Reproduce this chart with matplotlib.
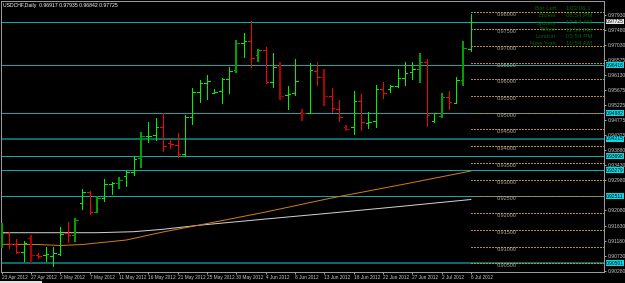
import matplotlib
matplotlib.use('Agg')
import matplotlib.pyplot as plt
from matplotlib.transforms import blended_transform_factory
from matplotlib.patches import Rectangle

plt.rcParams['font.family'] = ['Liberation Sans', 'DejaVu Sans']

title_text = "USDCHF,Daily  0.96917 0.97935 0.96842 0.97725"

# ---- daily OHLC bars (23 Apr 2012 .. 6 Jul 2012, broker calendar incl. Sunday bars)
opens = [0.91197, 0.91406, 0.91077, 0.90838, 0.91257, 0.90749, 0.90755, 0.90719, 0.90780, 0.91406,
         0.91346, 0.92302, 0.92631, 0.92033, 0.92452, 0.92870, 0.92891, 0.93109, 0.93229, 0.93638,
         0.94295, 0.94334, 0.94582, 0.94086, 0.94035, 0.93757, 0.94863, 0.95619, 0.95879, 0.95585,
         0.95640, 0.95998, 0.96276, 0.97092, 0.97143, 0.96724, 0.96874, 0.95909, 0.96396, 0.95529,
         0.95580, 0.95012, 0.95000, 0.96255, 0.96076, 0.95508, 0.95111, 0.94573, 0.94564, 0.95350,
         0.94707, 0.94752, 0.95699, 0.95708, 0.95789, 0.96046, 0.96207, 0.96315, 0.96530, 0.94752,
         0.94902, 0.95478, 0.95299, 0.95977, 0.96917]
highs = [0.91714, 0.91445, 0.91227, 0.91167, 0.91346, 0.90808, 0.90997, 0.90997, 0.91594, 0.91744,
         0.91845, 0.92712, 0.92661, 0.92511, 0.93010, 0.92939, 0.93070, 0.93273, 0.93716, 0.94415,
         0.94722, 0.94833, 0.95000, 0.94223, 0.94403, 0.94932, 0.95729, 0.95977, 0.96136, 0.95708,
         0.96037, 0.96375, 0.97172, 0.97391, 0.97740, 0.96895, 0.96972, 0.96775, 0.96524, 0.95798,
         0.96596, 0.95111, 0.96476, 0.96524, 0.96297, 0.95747, 0.95380, 0.94633, 0.95649, 0.95559,
         0.95030, 0.95828, 0.95927, 0.95828, 0.96297, 0.96524, 0.96515, 0.96793, 0.96596, 0.95000,
         0.95580, 0.95649, 0.96058, 0.97143, 0.97935]
lows = [0.90949, 0.90949, 0.90799, 0.90569, 0.90519, 0.90659, 0.90569, 0.90429, 0.90760, 0.91146,
        0.91146, 0.92123, 0.91974, 0.91995, 0.92371, 0.92562, 0.92712, 0.92810, 0.93139, 0.93339,
        0.94134, 0.94185, 0.93865, 0.93937, 0.93668, 0.93716, 0.94663, 0.95329, 0.95401, 0.95580,
        0.95281, 0.95580, 0.96195, 0.96656, 0.96375, 0.96515, 0.95879, 0.95759, 0.95380, 0.95120,
        0.95529, 0.94761, 0.94982, 0.95828, 0.95200, 0.95030, 0.94761, 0.94454, 0.94364, 0.94483,
        0.94543, 0.94573, 0.95431, 0.95628, 0.95759, 0.95828, 0.95998, 0.95897, 0.94612, 0.94731,
        0.94833, 0.95111, 0.95281, 0.95798, 0.96842]
closes = [0.91406, 0.91077, 0.90838, 0.91107, 0.90749, 0.90719, 0.90780, 0.90808, 0.91376, 0.91346,
          0.91794, 0.92631, 0.92033, 0.92452, 0.92870, 0.92891, 0.92990, 0.93229, 0.93608, 0.94304,
          0.94313, 0.94582, 0.94005, 0.94056, 0.93757, 0.94863, 0.95610, 0.95879, 0.95956, 0.95628,
          0.95998, 0.96255, 0.97074, 0.97143, 0.96626, 0.96874, 0.95909, 0.96375, 0.95508, 0.95559,
          0.95956, 0.94982, 0.96276, 0.96076, 0.95508, 0.95132, 0.94881, 0.94513, 0.95350, 0.94713,
          0.94722, 0.95699, 0.95580, 0.95798, 0.96046, 0.96177, 0.96297, 0.96524, 0.94932, 0.94982,
          0.95478, 0.95329, 0.95977, 0.96920, 0.97725]
# bar drawing style: up / dn (thin bright), up2 / dn2 (thick dark)
bar_kind = ['up2', 'dn', 'dn', 'up', 'dn2', 'dn', 'up', 'up', 'up', 'dn',
            'up2', 'up', 'dn', 'up2', 'up', 'up', 'up2', 'up', 'up', 'up2',
            'up', 'up', 'dn', 'dn', 'dn', 'up', 'up', 'up', 'up', 'up',
            'up', 'up', 'up2', 'up', 'dn', 'up2', 'dn', 'up', 'dn2', 'up',
            'up', 'dn2', 'up', 'dn', 'dn2', 'dn', 'dn', 'dn2', 'up', 'dn',
            'up', 'up', 'dn', 'up', 'up', 'up', 'up', 'up2', 'dn', 'up',
            'up2', 'dn', 'up', 'up2', 'up']

date_labels = ["23 Apr 2012", "27 Apr 2012", "2 May 2012", "7 May 2012", "11 May 2012",
               "16 May 2012", "21 May 2012", "25 May 2012", "30 May 2012", "4 Jun 2012",
               "8 Jun 2012", "13 Jun 2012", "18 Jun 2012", "22 Jun 2012", "27 Jun 2012",
               "2 Jul 2012", "6 Jul 2012"]

# moving averages, read at selected bars
ma_fast_bar = [0, 5, 8, 11, 13, 17, 22, 27, 36, 45, 55, 64]
ma_fast_val = [0.91068, 0.91062, 0.91033, 0.91062, 0.91107, 0.91197, 0.91436, 0.91645,
               0.92033, 0.92452, 0.92870, 0.93258]
ma_slow_bar = [0, 13, 18, 22, 27, 36, 45, 55, 64]
ma_slow_val = [0.91415, 0.91415, 0.91445, 0.91517, 0.91639, 0.91824, 0.92004, 0.92213, 0.92407]

# horizontal line objects
hline_prices = [0.97725, 0.96416, 0.94982, 0.94215, 0.93698, 0.93279, 0.92511, 0.90501]
hline_heavy = [False, False, False, True, False, False, False, True]

# round-number levels drawn right of the last bar
round_levels = [0.98000, 0.97500, 0.97000, 0.96500, 0.96000, 0.95500, 0.95000, 0.94500,
                0.94000, 0.93500, 0.93000, 0.92500, 0.92000, 0.91500, 0.91000, 0.90500]

# right price scale labels (the ones not hidden by the line boxes)
price_ticks = [0.97930, 0.97480, 0.97030, 0.96575, 0.96130, 0.95675, 0.95225, 0.94775, 0.94325,
               0.93880, 0.93430, 0.92980, 0.92080, 0.91630, 0.91180, 0.90730, 0.90280]

info_labels = ["Bar Left", "Broker", "Sydney", "Tokyo", "London", "New York"]
info_values = ["1:03:06:1", "08:54 PM", "12:54 AM", "11:54 PM", "03:54 PM", "10:54 AM"]

# ---------------------------------------------------------------------------
W, H = 625, 283
fig = plt.figure(figsize=(W / 100, H / 100), dpi=100, facecolor='black')
ax = fig.add_axes([1 / W, (H - 272) / H, 602.5 / W, 271.5 / H], facecolor='black')

px = 0.72  # one pixel in points
n = len(opens)
ax.set_xlim(-0.095, 82.1)
ax.set_ylim(0.90241, 0.98353)

styles = {'up': ('#00f000', 1.0), 'dn': ('#ff0000', 1.0),
          'up2': ('#00a000', 2.0), 'dn2': ('#b00000', 2.0)}
tick = 0.36
for i in range(n):
    col, w = styles[bar_kind[i]]
    ax.plot([i, i], [lows[i], highs[i]], color=col, lw=w * px, solid_capstyle='butt',
            antialiased=False, zorder=4)
    ax.plot([i - tick, i], [opens[i], opens[i]], color=col, lw=1.0 * px, solid_capstyle='butt',
            antialiased=False, zorder=4)
    ax.plot([i, i + tick], [closes[i], closes[i]], color=col, lw=1.0 * px, solid_capstyle='butt',
            antialiased=False, zorder=4)

# moving averages
ax.plot(ma_slow_bar, ma_slow_val, color='#d0d0d0', lw=1.0 * px, zorder=3)
ax.plot(ma_fast_bar, ma_fast_val, color='#d07c18', lw=1.0 * px, zorder=3)

# horizontal lines
for p, heavy in zip(hline_prices, hline_heavy):
    ax.axhline(p, color='#0b6b6b' if heavy else '#10a8a8', lw=(2.0 if heavy else 1.0) * px,
               antialiased=False, zorder=2)

# round-number levels
last = n - 1
for lv in round_levels:
    ax.plot([last, 82.1], [lv, lv], color='#b8883a', lw=1.0 * px, ls=(0, (2, 2)),
            antialiased=False, zorder=2)
    ax.text(last + 3.6, lv, f"{lv:.5f}", color='#b4a88e', fontsize=4.0, ha='left', va='top',
            zorder=5)

# axes styling
for s in ax.spines.values():
    s.set_color('#9a9a9a')
    s.set_linewidth(1.0 * px)
ax.yaxis.tick_right()
ax.set_yticks(price_ticks)
ax.set_yticklabels([f"{v:.5f}" for v in price_ticks])
ax.tick_params(axis='y', colors='#c8c8c8', labelsize=3.6, length=1.5, width=0.6, pad=1.2)
ax.set_xticks(list(range(0, n, 4)))
ax.set_xticklabels(date_labels, ha='left')
ax.tick_params(axis='x', colors='#c8c8c8', labelsize=3.4, length=1.5, width=0.6, pad=0.8)

# price boxes on the right scale
bt = blended_transform_factory(ax.transAxes, ax.transData)
for k, p in enumerate(hline_prices):
    fc = '#e8e8e8' if k == 0 else '#00dce8'
    ax.text(1.004, p, f"{p:.5f}", transform=bt, fontsize=3.5, color='black', ha='left',
            va='center', bbox=dict(boxstyle='square,pad=0.08', fc=fc, ec='none'), zorder=6,
            clip_on=False)

# texts
fig.text(3 / W, 1 - 5 / H, title_text, color='white', fontsize=3.7, ha='left', va='center')
info_y = [8.3, 15.7, 23.0, 30.0, 36.7, 43.3]
for lab, val, yy in zip(info_labels, info_values, info_y):
    fig.text(556 / W, 1 - yy / H, lab, color='#006400', fontsize=4.4, ha='right', va='center')
    fig.text(566 / W, 1 - yy / H, val, color='#006400', fontsize=4.4, ha='left', va='center')

fig.patches.append(Rectangle((0, 0), 42 / W, 2 / H, transform=fig.transFigure,
                             facecolor='#e0e0e0', edgecolor='none'))

fig.savefig('out.png', dpi=100, facecolor='black')
